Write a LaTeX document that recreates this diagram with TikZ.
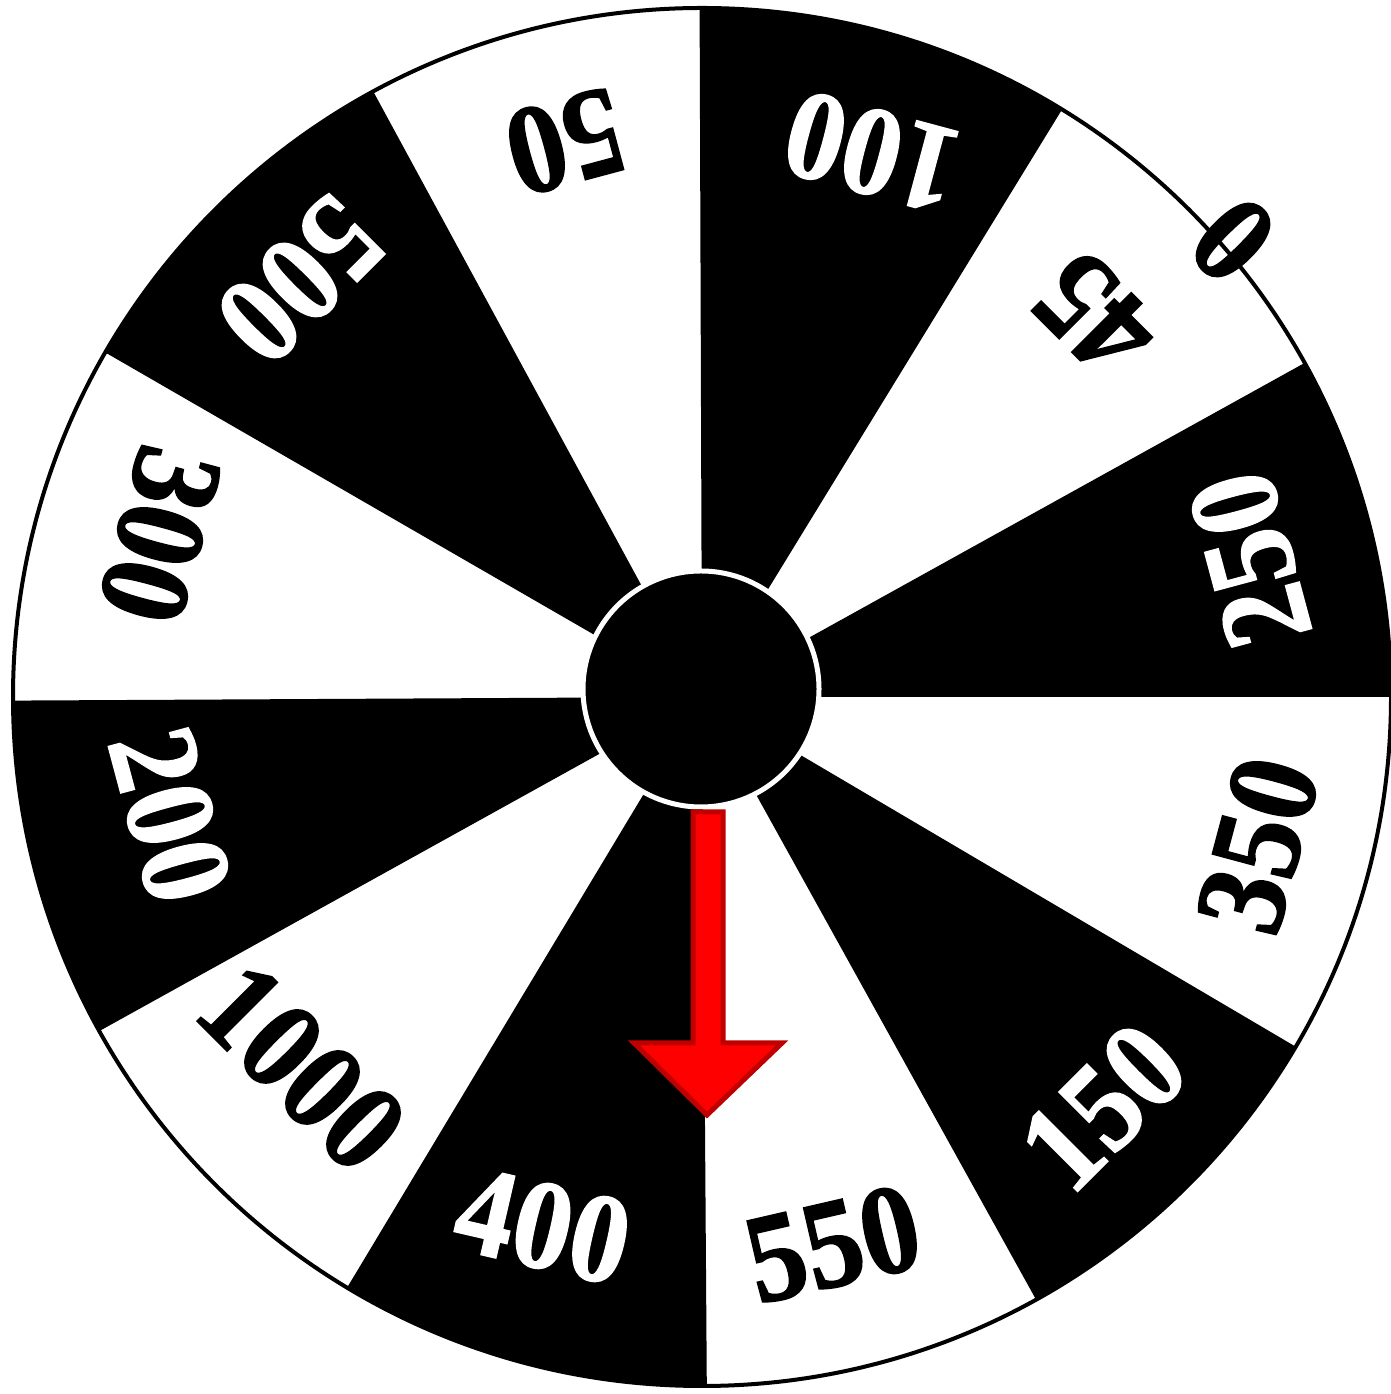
\documentclass[tikz,border=0pt]{standalone}
\usepackage{fontspec}
\setmainfont[BoldFeatures={FakeBold=1.2}]{Liberation Serif}
\begin{document}
\begin{tikzpicture}[x=1pt,y=1pt,
  lab/.style={inner sep=0pt,font=\fontsize{116}{116}\selectfont\bfseries},
  onblack/.style={lab,text=white},
  onwhite/.style={lab,text=black}]
\useasboundingbox (0,0) rectangle (1390,1394);
\coordinate (C) at (702,697);
% wheel
\fill[white] (C) circle (690);
\foreach \a/\b in {58.5/90.2,0/29,-61/-30.5,-121/-89.6,180.3/209,118.5/150}{
  \fill[black] (C) -- ++(\a:690) arc[start angle=\a,end angle=\b,radius=690] -- cycle;
}
\draw[black,line width=4pt] (C) circle (689);
% labels
\node[onblack,rotate=165,yscale=1.1] (l100) at (872,1242) {100};
\node[onwhite,rotate=135,yscale=1.1] (l45) at (1095,1079) {45};
\node[onwhite,rotate=135,yscale=1.1] (l0) at (1233,1154) {0};
\node[onblack,rotate=105,yscale=1.1] (l250) at (1250,834) {250};
\node[onwhite,rotate=75,yscale=1.1] (l350) at (1258,549) {350};
\node[onblack,rotate=45,yscale=1.1] (l150) at (1103,287) {150};
\node[onwhite,rotate=13,yscale=1.1] (l550) at (833,150) {550};
\node[onblack,rotate=-13,yscale=1.1] (l400) at (543,168) {400};
\node[onwhite,rotate=-45,yscale=1.1] (l1000) at (302,327) {1000};
\node[onblack,rotate=-75,yscale=1.1] (l200) at (170,579) {200};
\node[onwhite,rotate=-105,yscale=1.1] (l300) at (160,859) {300};
\node[onblack,rotate=-135,yscale=1.1] (l500) at (300,1114) {500};
\node[onwhite,rotate=-165,yscale=1.1] (l50) at (565,1252) {50};
% hub
\node[circle,fill=black,draw=white,line width=5pt,minimum size=236pt,inner sep=0pt] (hub) at (701,705) {};
% pointer arrow
\coordinate (tip) at (707,279);
\fill[red,draw={rgb,255:red,192;green,0;blue,0},line width=5pt,line join=miter]
  (693,582) -- (693,351) -- (634,351) -- (tip) -- (782,351) -- (723,351) -- (723,582) -- cycle;
\end{tikzpicture}
\end{document}
